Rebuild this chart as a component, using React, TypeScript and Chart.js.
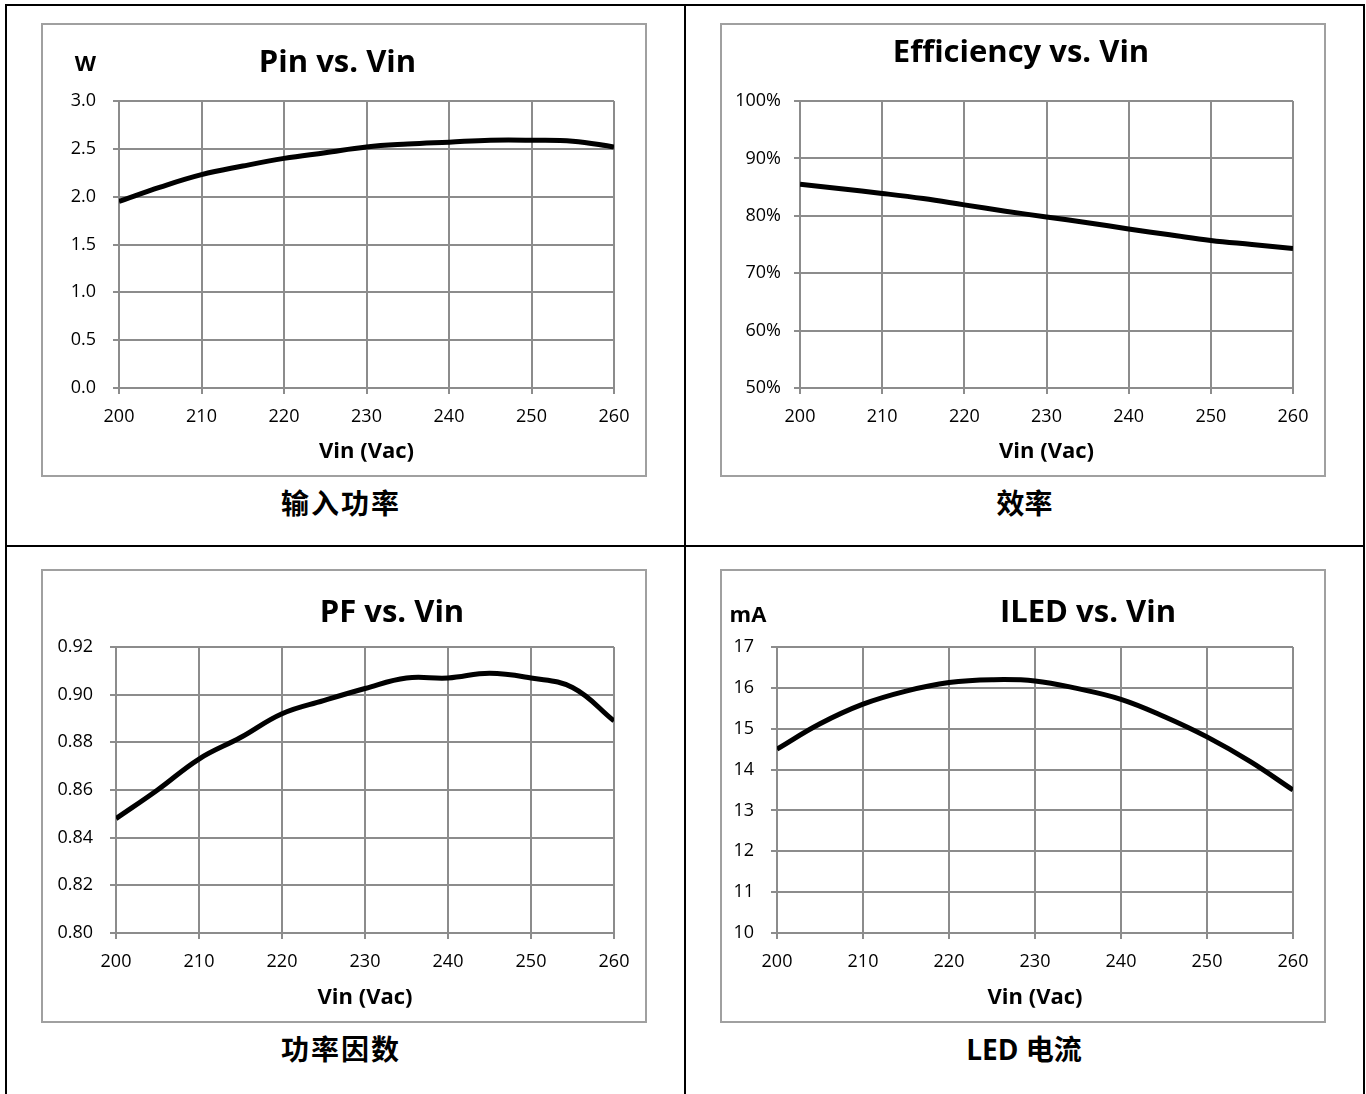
import React, { useEffect, useRef } from "react";
import { Chart, registerables } from "chart.js";

Chart.register(...registerables);

// ---------------- data ----------------
const VIN = [200, 205, 210, 215, 220, 225, 230, 235, 240, 245, 250, 255, 260];
const X_TICKS = [200, 210, 220, 230, 240, 250, 260];

const PIN_W = [1.95, 2.1, 2.23, 2.32, 2.4, 2.46, 2.52, 2.55, 2.57, 2.59, 2.59, 2.58, 2.52];
const PIN_TICKS = [0, 0.5, 1.0, 1.5, 2.0, 2.5, 3.0];

const EFFICIENCY_PCT = [85.5, 84.7, 83.9, 83.0, 81.9, 80.8, 79.8, 78.8, 77.7, 76.7, 75.7, 75.0, 74.3];
const EFF_TICKS = [50, 60, 70, 80, 90, 100];

const PF = [0.848, 0.86, 0.873, 0.882, 0.892, 0.8975, 0.9026, 0.907, 0.907, 0.909, 0.907, 0.903, 0.889];
const PF_TICKS = [0.8, 0.82, 0.84, 0.86, 0.88, 0.9, 0.92];

const ILED_MA = [14.5, 15.12, 15.6, 15.92, 16.13, 16.2, 16.17, 15.98, 15.72, 15.3, 14.8, 14.2, 13.5];
const ILED_TICKS = [10, 11, 12, 13, 14, 15, 16, 17];

const X_TITLE = "Vin (Vac)";

// ---------------- styling ----------------
const FONT = "'Open Sans', 'Noto Sans', sans-serif";
const GRID = "#8c8c8c";
const BOX_BORDER = "#a0a0a0";

type Spec = {
  key: string;
  left: number;
  top: number;
  width: number;
  height: number;
  yAxisWidth: number;
  xAxisHeight: number;
  padTop: number;
  padRight: number;
  yPad: number;
  values: number[];
  ticks: number[];
  fmt: (v: number) => string;
};

const SPECS: Spec[] = [
  {
    key: "pin",
    left: 41, top: 23, width: 606, height: 454,
    yAxisWidth: 78, xAxisHeight: 89, padTop: 78, padRight: 33, yPad: 17,
    values: PIN_W, ticks: PIN_TICKS, fmt: (v) => v.toFixed(1),
  },
  {
    key: "eff",
    left: 720, top: 23, width: 606, height: 454,
    yAxisWidth: 80, xAxisHeight: 89, padTop: 78, padRight: 33, yPad: 13,
    values: EFFICIENCY_PCT, ticks: EFF_TICKS, fmt: (v) => Math.round(v) + "%",
  },
  {
    key: "pf",
    left: 41, top: 569, width: 606, height: 454,
    yAxisWidth: 75, xAxisHeight: 90, padTop: 78, padRight: 33, yPad: 17,
    values: PF, ticks: PF_TICKS, fmt: (v) => v.toFixed(2),
  },
  {
    key: "iled",
    left: 720, top: 569, width: 606, height: 454,
    yAxisWidth: 57, xAxisHeight: 90, padTop: 78, padRight: 33, yPad: 17,
    values: ILED_MA, ticks: ILED_TICKS, fmt: (v) => String(Math.round(v)),
  },
];

function LineChart({ spec }: { spec: Spec }) {
  const ref = useRef<HTMLCanvasElement>(null);
  useEffect(() => {
    if (!ref.current) return;
    const yMin = spec.ticks[0];
    const yMax = spec.ticks[spec.ticks.length - 1];
    const chart = new Chart(ref.current, {
      type: "line",
      data: {
        datasets: [
          {
            data: VIN.map((x, i) => ({ x, y: spec.values[i] })),
            borderColor: "#000000",
            borderWidth: 5,
            pointRadius: 0,
            tension: 0.4,
            fill: false,
          },
        ],
      },
      options: {
        animation: false,
        responsive: false,
        maintainAspectRatio: false,
        devicePixelRatio: 1,
        layout: { padding: { top: spec.padTop, right: spec.padRight, left: 0, bottom: 0 } },
        plugins: {
          legend: { display: false },
          tooltip: { enabled: false },
          title: { display: false },
        },
        scales: {
          x: {
            type: "linear",
            min: X_TICKS[0],
            max: X_TICKS[X_TICKS.length - 1],
            afterBuildTicks: (scale: any) => {
              scale.ticks = X_TICKS.map((v) => ({ value: v }));
            },
            afterFit: (scale: any) => {
              scale.height = spec.xAxisHeight;
            },
            ticks: {
              color: "#000",
              font: { family: FONT, size: 18 },
              padding: 12,
              maxRotation: 0,
              autoSkip: false,
              callback: (v: any) => String(v),
            },
            grid: { color: GRID, lineWidth: 2, tickLength: 6, drawTicks: true },
            border: { display: true, color: GRID, width: 2 },
            title: {
              display: true,
              text: X_TITLE,
              color: "#000",
              font: { family: FONT, size: 22, weight: "bold" },
              padding: { top: 0, bottom: 12 },
            },
          },
          y: {
            type: "linear",
            min: yMin,
            max: yMax,
            afterBuildTicks: (scale: any) => {
              scale.ticks = spec.ticks.map((v) => ({ value: v }));
            },
            afterFit: (scale: any) => {
              scale.width = spec.yAxisWidth;
            },
            ticks: {
              color: "#000",
              font: { family: FONT, size: 18 },
              padding: spec.yPad,
              autoSkip: false,
              callback: (v: any) => spec.fmt(Number(v)),
            },
            grid: { color: GRID, lineWidth: 2, tickLength: 6, drawTicks: true },
            border: { display: true, color: GRID, width: 2 },
          },
        },
      } as any,
    });
    return () => chart.destroy();
  }, [spec]);

  return (
    <div
      style={{
        position: "absolute",
        left: spec.left,
        top: spec.top,
        width: spec.width,
        height: spec.height,
      }}
    >
      <canvas
        ref={ref}
        width={spec.width}
        height={spec.height}
        style={{ position: "absolute", left: 0, top: 0, width: spec.width, height: spec.height }}
      />
      <div
        style={{
          position: "absolute",
          left: 0,
          top: 0,
          width: spec.width,
          height: spec.height,
          border: `2px solid ${BOX_BORDER}`,
          boxSizing: "border-box",
          pointerEvents: "none",
        }}
      />
    </div>
  );
}

type Lbl = { text: string; x: number; y: number; size: number; cjk?: boolean; ls?: number };

const LABELS: Lbl[] = [
  { text: "Pin vs. Vin", x: 337.5, y: 60, size: 31 },
  { text: "W", x: 85.5, y: 62, size: 22 },
  { text: "Efficiency vs. Vin", x: 1021, y: 50, size: 31 },
  { text: "PF vs. Vin", x: 392, y: 610, size: 31 },
  { text: "ILED vs. Vin", x: 1088, y: 610, size: 31 },
  { text: "mA", x: 748, y: 613, size: 22 },
  { text: "输入功率", x: 340, y: 503, size: 28, cjk: true, ls: 2 },
  { text: "效率", x: 1024.5, y: 503, size: 28, cjk: true, ls: 0 },
  { text: "功率因数", x: 340, y: 1049, size: 28, cjk: true, ls: 2 },
  { text: "LED 电流", x: 1024, y: 1049, size: 28, cjk: true, ls: 0 },
];

function Text({ l }: { l: Lbl }) {
  const ls = l.ls || 0;
  return (
    <div
      style={{
        position: "absolute",
        left: l.x + ls / 2,
        top: l.y,
        transform: "translate(-50%, -50%)",
        fontFamily: l.cjk ? "'Open Sans', 'Noto Sans CJK SC', sans-serif" : FONT,
        fontWeight: 700,
        fontSize: l.size,
        letterSpacing: ls,
        lineHeight: 1,
        whiteSpace: "nowrap",
        color: "#000",
      }}
    >
      {l.text}
    </div>
  );
}

const LINES = [
  { left: 5, top: 4, width: 1360, height: 2 },
  { left: 5, top: 4, width: 2, height: 1090 },
  { left: 1363, top: 4, width: 2, height: 1090 },
  { left: 684, top: 4, width: 2, height: 1090 },
  { left: 5, top: 545, width: 1360, height: 2 },
];

export default function App() {
  return (
    <div
      style={{
        position: "absolute",
        left: 0,
        top: 0,
        width: 1366,
        height: 1094,
        background: "#fff",
        overflow: "hidden",
      }}
    >
      {LINES.map((s, i) => (
        <div key={i} style={{ position: "absolute", background: "#000", ...s }} />
      ))}
      {SPECS.map((s) => (
        <LineChart key={s.key} spec={s} />
      ))}
      {LABELS.map((l, i) => (
        <Text key={i} l={l} />
      ))}
    </div>
  );
}
